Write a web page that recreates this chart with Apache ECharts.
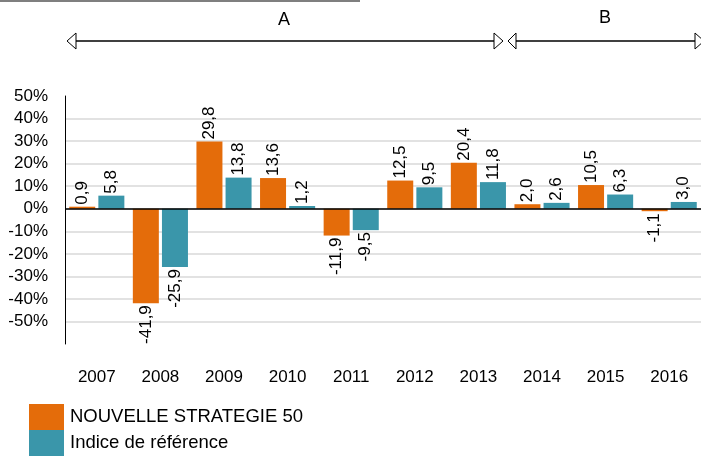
<!DOCTYPE html>
<html>
<head>
<meta charset="utf-8">
<script src="https://cdn.jsdelivr.net/npm/echarts@6/dist/echarts.min.js"></script>
<style>
  html, body { margin: 0; padding: 0; background: #fff; }
  #main { width: 701px; height: 457px; }
</style>
</head>
<body>
<div id="main"></div>
<script>
var years = ['2007', '2008', '2009', '2010', '2011', '2012', '2013', '2014', '2015', '2016'];
var strategie = [0.9, -41.9, 29.8, 13.6, -11.9, 12.5, 20.4, 2.0, 10.5, -1.1];
var indice = [5.8, -25.9, 13.8, 1.2, -9.5, 9.5, 11.8, 2.6, 6.3, 3.0];
var seriesNames = ['NOUVELLE STRATEGIE 50', 'Indice de référence'];
var colors = ['#e46c0a', '#3a96aa'];

var font = 'Liberation Sans, Arial, sans-serif';

function fmt(v) {
  return v.toFixed(1).replace('.', ',');
}

// positive values get a label above the bar, negative ones below
function withLabels(values) {
  return values.map(function (v) {
    return {
      value: v,
      label: v < 0
        ? { position: 'bottom', align: 'right' }
        : { position: 'top', align: 'left' }
    };
  });
}

var barLabel = {
  show: true,
  rotate: 90,
  verticalAlign: 'middle',
  distance: 2,
  color: '#000',
  fontFamily: font,
  fontSize: 17,
  formatter: function (p) { return fmt(p.value); }
};

var chart = echarts.init(document.getElementById('main'), null, { renderer: 'canvas' });

var option = {
  animation: false,
  color: colors,
  textStyle: { fontFamily: font },
  grid: { left: 65, top: 96, width: 640, height: 248 },
  legend: {
    orient: 'vertical',
    left: 29,
    top: 404,
    height: 60,
    padding: 0,
    itemWidth: 35,
    itemHeight: 26,
    itemGap: 0,
    icon: 'rect',
    textStyle: { color: '#000', fontSize: 18.5, fontFamily: font, padding: [0, 0, 0, 1] },
    data: seriesNames
  },
  xAxis: {
    type: 'category',
    data: years,
    axisLine: { show: false, onZero: false },
    axisTick: { show: false },
    axisLabel: { color: '#000', fontSize: 17, fontFamily: font, margin: 25 }
  },
  yAxis: {
    type: 'value',
    min: -60,
    max: 50,
    interval: 10,
    axisLine: { show: true, lineStyle: { color: '#000', width: 1 } },
    axisTick: { show: false },
    axisLabel: {
      color: '#000', fontSize: 17, fontFamily: font, margin: 17,
      showMinLabel: false,
      formatter: function (v) { return v + '%'; }
    },
    splitLine: {
      show: true,
      showMinLine: false,
      showMaxLine: false,
      lineStyle: { color: '#d9d9d9', width: 1.5 }
    }
  },
  series: [
    {
      name: seriesNames[0],
      type: 'bar',
      barWidth: 26,
      barGap: '12%',
      data: withLabels(strategie),
      label: barLabel,
      markLine: {
        silent: true,
        symbol: 'none',
        label: { show: false },
        lineStyle: { color: '#000', width: 1.5, type: 'solid' },
        data: [{ yAxis: 0 }]
      }
    },
    {
      name: seriesNames[1],
      type: 'bar',
      barWidth: 26,
      barGap: '12%',
      data: withLabels(indice),
      label: barLabel
    }
  ],
  graphic: [
    // grey rule at the very top
    { type: 'line', shape: { x1: 0, y1: 1, x2: 360, y2: 1 }, style: { stroke: '#7f7f7f', lineWidth: 2 } },
    // period A
    { type: 'line', shape: { x1: 76, y1: 41, x2: 494, y2: 41 }, style: { stroke: '#000', lineWidth: 1.3 } },
    { type: 'polygon', shape: { points: [[67, 41], [76, 33], [76, 49]] }, style: { fill: '#fff', stroke: '#000', lineWidth: 1 } },
    { type: 'polygon', shape: { points: [[503, 41], [494, 33], [494, 49]] }, style: { fill: '#fff', stroke: '#000', lineWidth: 1 } },
    { type: 'text', x: 284, y: 20, style: { text: 'A', fill: '#000', font: '18px ' + font, align: 'center', verticalAlign: 'middle' } },
    // period B
    { type: 'line', shape: { x1: 516, y1: 41, x2: 695, y2: 41 }, style: { stroke: '#000', lineWidth: 1.3 } },
    { type: 'polygon', shape: { points: [[508, 41], [516, 33], [516, 49]] }, style: { fill: '#fff', stroke: '#000', lineWidth: 1 } },
    { type: 'polygon', shape: { points: [[704, 41], [695, 33], [695, 49]] }, style: { fill: '#fff', stroke: '#000', lineWidth: 1 } },
    { type: 'text', x: 605, y: 18, style: { text: 'B', fill: '#000', font: '18px ' + font, align: 'center', verticalAlign: 'middle' } }
  ]
};

chart.setOption(option);
</script>
</body>
</html>
